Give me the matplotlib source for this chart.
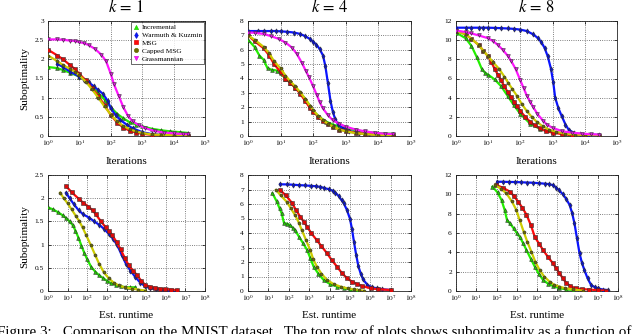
import numpy as np
import matplotlib
matplotlib.use("Agg")
import matplotlib.pyplot as plt
from matplotlib.lines import Line2D

plt.rcParams['font.family'] = ['Liberation Serif', 'DejaVu Serif']
plt.rcParams['mathtext.fontset'] = 'stix'

# ---------------- series / style ----------------
series_names = ["Incremental", "Warmuth & Kuzmin", "MSG", "Capped MSG", "Grassmannian"]
line_colors = ["#22ee00", "#0a14ff", "#ff0a0a", "#cccc00", "#ff14ff"]
marker_faces = ["#22cc00", "#0a14cc", "#dd0a0a", "#6b6b00", "#dd14dd"]
marker_shapes = ["^", "d", "s", "o", "v"]

titles = ["$k\\,=\\,1$", "$k\\,=\\,4$", "$k\\,=\\,8$"]
top_xlabel = "Iterations"
bottom_xlabel = "Est. runtime"
ylabel = "Suboptimality"
caption = "Figure 3:   Comparison on the MNIST dataset.  The top row of plots shows suboptimality as a function of"

top_xtick_exp = [0, 1, 2, 3, 4, 5]
bottom_xtick_exp = [0, 1, 2, 3, 4, 5, 6, 7, 8]
top_yticks = [[0, 0.5, 1, 1.5, 2, 2.5, 3], [0, 1, 2, 3, 4, 5, 6, 7, 8], [0, 2, 4, 6, 8, 10, 12]]
bottom_yticks = [[0, 0.5, 1, 1.5, 2, 2.5], [0, 1, 2, 3, 4, 5, 6, 7, 8], [0, 2, 4, 6, 8, 10, 12]]
ytick_labels_k1_top = ["0", "0.5", "1", "1.5", "2", "2.5", "3"]
ytick_labels_k1_bot = ["0", "0.5", "1", "1.5", "2", "2.5"]

# ---------------- data: top row (iterations), x given as log10 ----------------
# k = 1
it_k1_inc_lx = [0, 0.3, 0.48, 0.7, 1.0, 1.2, 1.4, 1.6, 1.8, 2.0, 2.2, 2.4, 2.6, 2.8, 3.0, 3.3, 3.6, 3.9, 4.2, 4.45]
it_k1_inc_y = [1.80, 1.77, 1.72, 1.65, 1.55, 1.45, 1.30, 1.12, 0.95, 0.75, 0.58, 0.46, 0.36, 0.30, 0.25, 0.19, 0.15, 0.12, 0.10, 0.08]
it_k1_wk_lx = [0.3, 0.48, 0.7, 1.0, 1.15, 1.3, 1.45, 1.6, 1.75, 1.9, 2.0, 2.15, 2.3, 2.5, 2.7, 3.0, 3.3, 3.6, 4.0, 4.45]
it_k1_wk_y = [1.88, 1.80, 1.68, 1.55, 1.47, 1.40, 1.30, 1.20, 1.10, 0.92, 0.72, 0.55, 0.42, 0.30, 0.20, 0.10, 0.05, 0.03, 0.02, 0.02]
it_k1_msg_lx = [0, 0.3, 0.48, 0.7, 0.85, 1.0, 1.2, 1.4, 1.6, 1.8, 2.0, 2.2, 2.4, 2.6, 2.8, 3.0, 3.3, 3.6, 4.0, 4.45]
it_k1_msg_y = [2.25, 2.10, 2.00, 1.85, 1.75, 1.62, 1.45, 1.25, 1.05, 0.80, 0.55, 0.35, 0.22, 0.14, 0.09, 0.06, 0.03, 0.02, 0.01, 0.01]
it_k1_cap_lx = [0, 0.3, 0.48, 0.7, 0.85, 1.0, 1.2, 1.4, 1.6, 1.8, 2.0, 2.2, 2.4, 2.6, 2.8, 3.0, 3.3, 3.6, 4.0, 4.45]
it_k1_cap_y = [2.10, 1.95, 1.85, 1.75, 1.68, 1.58, 1.42, 1.22, 1.00, 0.77, 0.56, 0.38, 0.26, 0.18, 0.12, 0.08, 0.04, 0.03, 0.02, 0.01]
it_k1_gr_lx = [0, 0.3, 0.48, 0.7, 0.85, 1.0, 1.15, 1.3, 1.5, 1.7, 1.85, 2.0, 2.1, 2.25, 2.4, 2.55, 2.7, 2.9, 3.1, 3.4, 3.7, 4.0, 4.3, 4.45]
it_k1_gr_y = [2.52, 2.52, 2.51, 2.49, 2.48, 2.45, 2.42, 2.37, 2.27, 2.12, 1.95, 1.62, 1.35, 1.05, 0.75, 0.52, 0.38, 0.28, 0.20, 0.13, 0.09, 0.07, 0.05, 0.05]

# k = 4
it_k4_inc_lx = [0, 0.2, 0.35, 0.48, 0.6, 0.75, 0.9, 1.0, 1.15, 1.3, 1.45, 1.6, 1.75, 1.9, 2.0, 2.2, 2.4, 2.6, 2.8, 3.0, 3.3, 3.6, 4.0, 4.45]
it_k4_inc_y = [6.7, 6.2, 5.6, 5.3, 4.7, 4.6, 4.55, 4.35, 4.0, 3.7, 3.35, 3.0, 2.6, 2.1, 1.75, 1.3, 1.0, 0.8, 0.65, 0.55, 0.4, 0.3, 0.2, 0.15]
it_k4_wk_lx = [0, 0.3, 0.48, 0.7, 0.85, 1.0, 1.2, 1.4, 1.6, 1.75, 1.9, 2.0, 2.1, 2.2, 2.3, 2.37, 2.45, 2.53, 2.6, 2.67, 2.75, 2.9, 3.1, 3.4, 3.7, 4.0, 4.45]
it_k4_wk_y = [7.3, 7.3, 7.3, 7.3, 7.3, 7.28, 7.25, 7.2, 7.1, 6.95, 6.75, 6.55, 6.35, 6.05, 5.6, 4.9, 3.7, 2.45, 1.7, 1.2, 0.85, 0.55, 0.35, 0.2, 0.12, 0.08, 0.05]
it_k4_msg_lx = [0, 0.2, 0.48, 0.65, 0.8, 1.0, 1.15, 1.3, 1.45, 1.6, 1.75, 1.9, 2.0, 2.15, 2.3, 2.45, 2.6, 2.8, 3.0, 3.3, 3.6, 4.0, 4.45]
it_k4_msg_y = [7.0, 6.6, 6.1, 5.6, 5.0, 4.45, 4.0, 3.7, 3.35, 2.95, 2.45, 1.95, 1.7, 1.35, 1.05, 0.85, 0.65, 0.45, 0.35, 0.22, 0.15, 0.08, 0.05]
it_k4_cap_lx = [0, 0.2, 0.48, 0.65, 0.8, 1.0, 1.15, 1.3, 1.45, 1.6, 1.75, 1.9, 2.0, 2.15, 2.3, 2.45, 2.6, 2.8, 3.0, 3.3, 3.6, 4.0, 4.45]
it_k4_cap_y = [7.0, 6.7, 6.2, 5.75, 5.2, 4.7, 4.2, 3.8, 3.45, 3.05, 2.6, 2.1, 1.8, 1.4, 1.1, 0.85, 0.65, 0.45, 0.33, 0.2, 0.13, 0.07, 0.05]
it_k4_gr_lx = [0, 0.2, 0.48, 0.7, 0.95, 1.15, 1.35, 1.5, 1.65, 1.78, 1.87, 2.0, 2.11, 2.2, 2.29, 2.45, 2.6, 2.8, 3.0, 3.3, 3.6, 3.9, 4.2, 4.45]
it_k4_gr_y = [7.2, 7.18, 7.1, 6.95, 6.75, 6.5, 6.15, 5.7, 5.1, 4.5, 4.1, 3.45, 2.85, 2.35, 1.95, 1.45, 1.1, 0.85, 0.65, 0.45, 0.32, 0.22, 0.16, 0.14]

# k = 8
it_k8_inc_lx = [0, 0.3, 0.48, 0.65, 0.8, 0.9, 1.0, 1.2, 1.4, 1.6, 1.8, 2.0, 2.3, 2.6, 3.0, 3.5, 4.0, 4.45]
it_k8_inc_y = [10.8, 10.2, 9.4, 8.2, 7.0, 6.6, 6.4, 5.9, 5.2, 4.2, 3.2, 2.3, 1.3, 0.75, 0.4, 0.2, 0.12, 0.1]
it_k8_wk_lx = [0, 0.3, 0.48, 0.7, 0.85, 1.0, 1.2, 1.4, 1.6, 1.8, 2.0, 2.2, 2.4, 2.55, 2.65, 2.75, 2.85, 2.95, 3.02, 3.08, 3.18, 3.28, 3.4, 3.5, 3.65, 3.85, 4.1, 4.45]
it_k8_wk_y = [11.3, 11.3, 11.3, 11.3, 11.3, 11.3, 11.28, 11.25, 11.22, 11.18, 11.1, 10.95, 10.6, 10.2, 9.8, 9.2, 8.3, 7.0, 5.6, 4.0, 2.9, 2.1, 1.2, 0.65, 0.35, 0.2, 0.15, 0.1]
it_k8_msg_lx = [0, 0.3, 0.48, 0.7, 0.85, 1.0, 1.1, 1.2, 1.3, 1.4, 1.5, 1.6, 1.7, 1.8, 1.9, 2.0, 2.15, 2.3, 2.45, 2.6, 2.8, 3.0, 3.3, 3.6, 4.0, 4.45]
it_k8_msg_y = [11.0, 10.6, 10.15, 9.5, 8.9, 8.3, 7.7, 7.0, 6.4, 5.8, 5.2, 4.6, 4.1, 3.6, 3.1, 2.6, 2.0, 1.5, 1.1, 0.8, 0.5, 0.35, 0.2, 0.12, 0.07, 0.05]
it_k8_cap_lx = [0, 0.3, 0.48, 0.7, 0.85, 1.0, 1.15, 1.34, 1.5, 1.63, 1.75, 1.89, 2.05, 2.2, 2.35, 2.5, 2.7, 2.9, 3.1, 3.4, 3.7, 4.0, 4.45]
it_k8_cap_y = [11.0, 10.6, 10.15, 9.5, 8.9, 8.3, 7.7, 7.0, 6.2, 5.5, 4.9, 4.2, 3.3, 2.6, 2.0, 1.5, 1.0, 0.65, 0.45, 0.25, 0.15, 0.1, 0.05]
it_k8_gr_lx = [0, 0.3, 0.48, 0.7, 1.0, 1.15, 1.3, 1.45, 1.6, 1.72, 1.85, 2.0, 2.1, 2.2, 2.3, 2.4, 2.53, 2.7, 2.84, 3.0, 3.3, 3.6, 3.9, 4.2, 4.45]
it_k8_gr_y = [11.0, 10.85, 10.7, 10.5, 10.2, 9.9, 9.5, 9.0, 8.4, 7.8, 7.0, 5.8, 5.0, 4.2, 3.6, 3.0, 2.3, 1.6, 1.15, 0.85, 0.5, 0.35, 0.25, 0.18, 0.15]

# ---------------- data: bottom row (estimated runtime), x given as log10 ----------------
# k = 1
rt_k1_inc_lx = [0, 0.25, 0.5, 0.75, 0.92, 1.1, 1.26, 1.4, 1.55, 1.7, 1.85, 2.0, 2.2, 2.4, 2.6, 2.8, 3.0, 3.2, 3.45, 3.7, 3.98, 4.2, 4.45]
rt_k1_inc_y = [1.80, 1.76, 1.70, 1.63, 1.57, 1.50, 1.42, 1.30, 1.15, 0.98, 0.82, 0.68, 0.52, 0.42, 0.34, 0.28, 0.22, 0.17, 0.13, 0.10, 0.08, 0.08, 0.08]
rt_k1_wk_lx = [0.92, 1.1, 1.3, 1.56, 1.8, 2.1, 2.35, 2.6, 2.85, 3.1, 3.3, 3.53, 3.75, 3.98, 4.2, 4.45, 4.7, 4.96, 5.2, 5.5, 5.8, 6.1, 6.35, 6.55]
rt_k1_wk_y = [2.12, 2.0, 1.88, 1.74, 1.65, 1.58, 1.5, 1.43, 1.34, 1.23, 1.13, 0.99, 0.78, 0.58, 0.44, 0.30, 0.18, 0.1, 0.06, 0.04, 0.03, 0.02, 0.01, 0.01]
rt_k1_msg_lx = [0.92, 1.2, 1.56, 1.8, 2.05, 2.27, 2.44, 2.7, 2.94, 3.1, 3.28, 3.5, 3.7, 3.9, 4.12, 4.33, 4.54, 4.75, 4.96, 5.2, 5.46, 5.7, 5.97, 6.25, 6.55]
rt_k1_msg_y = [2.26, 2.13, 1.99, 1.9, 1.82, 1.74, 1.65, 1.5, 1.37, 1.29, 1.2, 1.05, 0.9, 0.72, 0.55, 0.44, 0.34, 0.22, 0.13, 0.09, 0.07, 0.05, 0.04, 0.03, 0.02]
rt_k1_cap_lx = [0.62, 0.8, 1.0, 1.2, 1.43, 1.6, 1.76, 1.95, 2.18, 2.4, 2.6, 2.85, 3.1, 3.35, 3.6, 3.9, 4.28, 4.6, 4.96]
rt_k1_cap_y = [2.12, 2.0, 1.89, 1.76, 1.61, 1.5, 1.37, 1.2, 0.99, 0.78, 0.59, 0.4, 0.27, 0.18, 0.12, 0.08, 0.05, 0.03, 0.01]

# k = 4
rt_k4_inc_lx = [1.2, 1.4, 1.55, 1.65, 1.77, 1.9, 2.06, 2.2, 2.31, 2.5, 2.7, 2.9, 3.05, 3.22, 3.45, 3.71, 4.0, 4.37, 4.7, 5.03, 5.36]
rt_k4_inc_y = [6.74, 6.2, 5.7, 5.36, 4.67, 4.65, 4.55, 4.35, 4.2, 3.75, 3.3, 2.83, 2.3, 1.68, 1.2, 0.76, 0.5, 0.3, 0.18, 0.11, 0.07]
rt_k4_wk_lx = [1.57, 1.9, 2.2, 2.5, 2.8, 3.1, 3.35, 3.55, 3.75, 3.96, 4.15, 4.29, 4.45, 4.6, 4.7, 4.85, 5.0, 5.1, 5.2, 5.31, 5.42, 5.53, 5.65, 5.86, 6.1, 6.35, 6.6, 7.0]
rt_k4_wk_y = [7.36, 7.35, 7.33, 7.3, 7.28, 7.25, 7.22, 7.18, 7.1, 7.02, 6.92, 6.78, 6.55, 6.25, 6.05, 5.6, 5.0, 4.3, 3.4, 2.48, 1.7, 1.2, 0.8, 0.42, 0.25, 0.18, 0.12, 0.07]
rt_k4_msg_lx = [1.57, 1.85, 2.15, 2.35, 2.56, 2.75, 2.9, 3.1, 3.38, 3.6, 3.88, 4.1, 4.37, 4.6, 4.87, 5.1, 5.36, 5.6, 6.02, 6.4, 7.0]
rt_k4_msg_y = [6.97, 6.6, 6.09, 5.6, 5.13, 4.75, 4.44, 4.0, 3.5, 3.1, 2.6, 2.15, 1.68, 1.25, 0.87, 0.65, 0.48, 0.35, 0.18, 0.12, 0.07]
rt_k4_cap_lx = [1.37, 1.6, 1.9, 2.1, 2.31, 2.5, 2.64, 2.85, 3.05, 3.2, 3.38, 3.6, 3.88, 4.2, 4.54, 4.9, 5.2, 5.45, 5.7]
rt_k4_cap_y = [6.97, 6.6, 6.15, 5.7, 5.24, 4.7, 4.2, 3.5, 2.83, 2.2, 1.68, 1.2, 0.76, 0.48, 0.3, 0.18, 0.11, 0.06, 0.02]

# k = 8
rt_k8_inc_lx = [1.8, 2.05, 2.25, 2.4, 2.52, 2.66, 2.85, 3.0, 3.15, 3.3, 3.48, 3.7, 3.89, 4.1, 4.3, 4.55, 4.79, 5.1, 5.44, 5.77]
rt_k8_inc_y = [10.8, 10.2, 9.4, 8.4, 7.34, 7.0, 6.48, 6.0, 5.6, 5.0, 4.24, 3.3, 2.52, 1.75, 1.14, 0.75, 0.52, 0.3, 0.17, 0.1]
rt_k8_wk_lx = [2.03, 2.3, 2.6, 2.9, 3.2, 3.5, 3.8, 4.1, 4.4, 4.6, 4.79, 4.95, 5.1, 5.28, 5.45, 5.61, 5.73, 5.85, 5.97, 6.1, 6.22, 6.34, 6.5, 6.67, 6.85, 7.0, 7.25, 7.49]
rt_k8_wk_y = [11.3, 11.3, 11.28, 11.27, 11.25, 11.22, 11.2, 11.15, 11.1, 11.05, 10.95, 10.7, 10.4, 10.0, 9.5, 8.9, 8.1, 7.0, 5.5, 3.9, 2.9, 2.17, 1.3, 0.62, 0.4, 0.28, 0.15, 0.1]
rt_k8_msg_lx = [1.97, 2.3, 2.66, 2.85, 3.07, 3.28, 3.48, 3.7, 3.89, 4.1, 4.3, 4.55, 4.79, 4.95, 5.11, 5.28, 5.44, 5.65, 5.93, 6.2, 6.59, 7.0, 7.41]
rt_k8_msg_y = [10.97, 10.7, 10.28, 9.85, 9.24, 8.6, 7.9, 6.8, 5.6, 4.9, 4.24, 3.5, 2.86, 2.35, 1.83, 1.3, 0.85, 0.5, 0.28, 0.2, 0.15, 0.08, 0.03]
rt_k8_cap_lx = [1.92, 2.2, 2.49, 2.75, 2.98, 3.15, 3.34, 3.52, 3.72, 3.92, 4.13, 4.35, 4.62, 4.85, 5.11, 5.4, 5.77, 6.26]
rt_k8_cap_y = [10.97, 10.6, 10.1, 9.3, 8.38, 7.3, 6.14, 5.1, 4.07, 3.0, 2.17, 1.5, 0.97, 0.65, 0.45, 0.28, 0.17, 0.03]

top_series = [
    [(it_k1_inc_lx, it_k1_inc_y), (it_k1_wk_lx, it_k1_wk_y), (it_k1_msg_lx, it_k1_msg_y), (it_k1_cap_lx, it_k1_cap_y), (it_k1_gr_lx, it_k1_gr_y)],
    [(it_k4_inc_lx, it_k4_inc_y), (it_k4_wk_lx, it_k4_wk_y), (it_k4_msg_lx, it_k4_msg_y), (it_k4_cap_lx, it_k4_cap_y), (it_k4_gr_lx, it_k4_gr_y)],
    [(it_k8_inc_lx, it_k8_inc_y), (it_k8_wk_lx, it_k8_wk_y), (it_k8_msg_lx, it_k8_msg_y), (it_k8_cap_lx, it_k8_cap_y), (it_k8_gr_lx, it_k8_gr_y)],
]
bottom_series = [
    [(rt_k1_inc_lx, rt_k1_inc_y), (rt_k1_wk_lx, rt_k1_wk_y), (rt_k1_msg_lx, rt_k1_msg_y), (rt_k1_cap_lx, rt_k1_cap_y), None],
    [(rt_k4_inc_lx, rt_k4_inc_y), (rt_k4_wk_lx, rt_k4_wk_y), (rt_k4_msg_lx, rt_k4_msg_y), (rt_k4_cap_lx, rt_k4_cap_y), None],
    [(rt_k8_inc_lx, rt_k8_inc_y), (rt_k8_wk_lx, rt_k8_wk_y), (rt_k8_msg_lx, rt_k8_msg_y), (rt_k8_cap_lx, rt_k8_cap_y), None],
]

# ---------------- figure ----------------
W, H = 640, 334
fig = plt.figure(figsize=(W / 100, H / 100), dpi=100)

def px_axes(x0, y0, x1, y1):
    return fig.add_axes([x0 / W, 1 - y1 / H, (x1 - x0) / W, (y1 - y0) / H])

top_boxes = [(48, 21, 205, 136), (248, 21, 411, 136), (456, 21, 617, 136)]
bot_boxes = [(48, 175, 205, 291), (248, 175, 411, 291), (456, 175, 618, 291)]

def style_axes(ax, xexp, yticks, ylabels=None):
    ax.set_xscale('log')
    ax.set_xlim(10.0 ** xexp[0], 10.0 ** xexp[-1])
    ax.set_ylim(yticks[0], yticks[-1])
    ax.set_xticks([10.0 ** e for e in xexp])
    ax.set_xticklabels(["$10^{%d}$" % e for e in xexp])
    ax.xaxis.set_minor_locator(matplotlib.ticker.NullLocator())
    ax.set_yticks(yticks)
    if ylabels is not None:
        ax.set_yticklabels(ylabels)
    else:
        ax.set_yticklabels([str(v) for v in yticks])
    ax.tick_params(axis='x', which='major', direction='in', length=2.5, width=0.5,
                   labelsize=5.3, pad=1.8, top=True)
    ax.tick_params(axis='y', which='major', direction='in', length=2.5, width=0.5,
                   labelsize=5.3, pad=3.0, right=True)
    ax.grid(True, which='major', linestyle=':', linewidth=0.6, color='#555555')
    for s in ax.spines.values():
        s.set_linewidth(0.6)
        s.set_color('#222222')

marker_sizes = [2.7, 2.7, 2.5, 2.2, 2.7]

def draw_series(ax, data):
    for i, d in enumerate(data):
        if d is None:
            continue
        lx, y = d
        ax.plot(10.0 ** np.asarray(lx), y, color=line_colors[i], linewidth=1.6,
                marker=marker_shapes[i], markersize=marker_sizes[i], markerfacecolor=marker_faces[i],
                markeredgecolor='#303030', markeredgewidth=0.4, zorder=3 + i)

for j in range(3):
    ax = px_axes(*top_boxes[j])
    style_axes(ax, top_xtick_exp, top_yticks[j], ytick_labels_k1_top if j == 0 else None)
    draw_series(ax, top_series[j])
    cx = (top_boxes[j][0] + top_boxes[j][2]) / 2 / W
    fig.text(cx, 1 - 7 / H, titles[j], ha='center', va='center', fontsize=12)
    fig.text(cx, 1 - 162 / H, top_xlabel, ha='center', va='center', fontsize=8)
    if j == 0:
        handles = [Line2D([], [], linestyle='none', marker=marker_shapes[i], markersize=3.0,
                          markerfacecolor=line_colors[i] if i != 3 else marker_faces[i],
                          markeredgecolor=marker_faces[i], markeredgewidth=0.5)
                   for i in range(5)]
        leg = ax.legend(handles, series_names, loc='upper right', fontsize=5.2,
                        frameon=True, fancybox=False, borderpad=0.3, labelspacing=0.25,
                        handlelength=0.8, handletextpad=0.4, borderaxespad=0.15)
        leg.get_frame().set_edgecolor('#222222')
        leg.get_frame().set_linewidth(0.6)
        leg.set_zorder(20)
        fig.text(25 / W, 1 - 79 / H, ylabel, ha='center', va='center', rotation=90, fontsize=8)

for j in range(3):
    ax = px_axes(*bot_boxes[j])
    style_axes(ax, bottom_xtick_exp, bottom_yticks[j], ytick_labels_k1_bot if j == 0 else None)
    draw_series(ax, bottom_series[j])
    cx = (bot_boxes[j][0] + bot_boxes[j][2]) / 2 / W
    fig.text(cx, 1 - 315 / H, bottom_xlabel, ha='center', va='center', fontsize=8)
    if j == 0:
        fig.text(25 / W, 1 - 236 / H, ylabel, ha='center', va='center', rotation=90, fontsize=8)

fig.text(-3 / W, 1 - 336 / H, caption, ha='left', va='baseline', fontsize=10.8)

fig.savefig("out.png", dpi=100)
